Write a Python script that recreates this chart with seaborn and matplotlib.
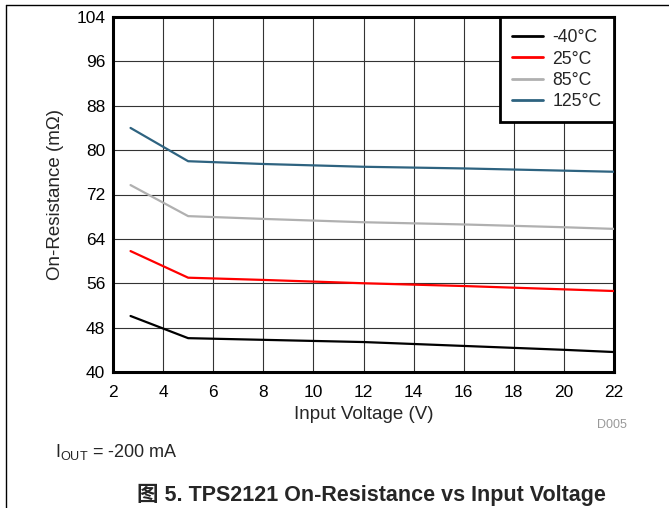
import matplotlib
matplotlib.use("Agg")
import matplotlib.pyplot as plt
import pandas as pd
import seaborn as sns
from matplotlib.lines import Line2D

# Chart data
voltage = [2.7, 5, 8, 12, 16, 20, 22]
temps = ["-40°C", "25°C", "85°C", "125°C"]
r_m40 = [50.1, 46.1, 45.8, 45.4, 44.7, 44.0, 43.6]
r_25 = [61.8, 57.0, 56.6, 56.0, 55.5, 54.9, 54.6]
r_85 = [73.7, 68.1, 67.6, 67.0, 66.6, 66.1, 65.8]
r_125 = [84.0, 78.0, 77.5, 77.0, 76.7, 76.3, 76.1]
colors = ["#000000", "#ff0000", "#b0b0b0", "#2e6380"]

x_ticks = list(range(2, 23, 2))
y_ticks = list(range(40, 105, 8))

rows = []
for temp, vals in zip(temps, [r_m40, r_25, r_85, r_125]):
    for v, r in zip(voltage, vals):
        rows.append({"Voltage": v, "Resistance": r, "Temp": temp})
df = pd.DataFrame(rows)

sns.set_style("white")
plt.rcParams["font.family"] = ["Liberation Sans", "Noto Sans CJK SC", "DejaVu Sans"]

fig = plt.figure(figsize=(6.69, 5.08), dpi=100)
ax = fig.add_axes([113 / 669, 1 - 372 / 508, (614 - 113) / 669, (372 - 17) / 508])

sns.lineplot(data=df, x="Voltage", y="Resistance", hue="Temp",
             hue_order=temps, palette=dict(zip(temps, colors)),
             linewidth=1.6, ax=ax, zorder=3)

ax.set_xlim(2, 22)
ax.set_ylim(40, 104)
ax.set_xticks(x_ticks)
ax.set_yticks(y_ticks)
ax.tick_params(length=0, labelsize=12.5, colors="black")
ax.tick_params(axis="x", pad=9.5)
ax.tick_params(axis="y", pad=5.5)
ax.grid(True, color="#333333", linewidth=0.8)
for s in ax.spines.values():
    s.set_visible(True)
    s.set_color("black")
    s.set_linewidth(2.2)

ax.set_xlabel("Input Voltage (V)", fontsize=13.5, labelpad=4.5)
ax.set_ylabel("On-Resistance (mΩ)", fontsize=13.5, labelpad=9)

leg = ax.legend(loc="upper right", borderaxespad=0, fontsize=12.7,
                frameon=True, fancybox=False, framealpha=1,
                handlelength=1.75, handletextpad=0.55, labelspacing=0.24,
                borderpad=0.7, title=None)
leg.get_frame().set_edgecolor("black")
leg.get_frame().set_linewidth(2)
for line in leg.get_lines():
    line.set_linewidth(2)

fig.text(612 / 669, 1 - 425 / 508, "D005", fontsize=9, color="#999999",
         ha="center", va="center")
fig.text(55 / 669, 1 - 452 / 508, r"I$_{\mathregular{OUT}}$ = -200 mA",
         fontsize=13, ha="left", va="center")
fig.text(371 / 669, 1 - 495 / 508, "图 5. TPS2121 On-Resistance vs Input Voltage",
         fontsize=15.5, fontweight="bold", ha="center", va="center")

# page frame lines
fig.add_artist(Line2D([6 / 669, 1], [1 - 5 / 508, 1 - 5 / 508],
                      transform=fig.transFigure, color="black", linewidth=1))
fig.add_artist(Line2D([6 / 669, 6 / 669], [0, 1 - 5 / 508],
                      transform=fig.transFigure, color="black", linewidth=1))

fig.savefig("out.png", dpi=100)
